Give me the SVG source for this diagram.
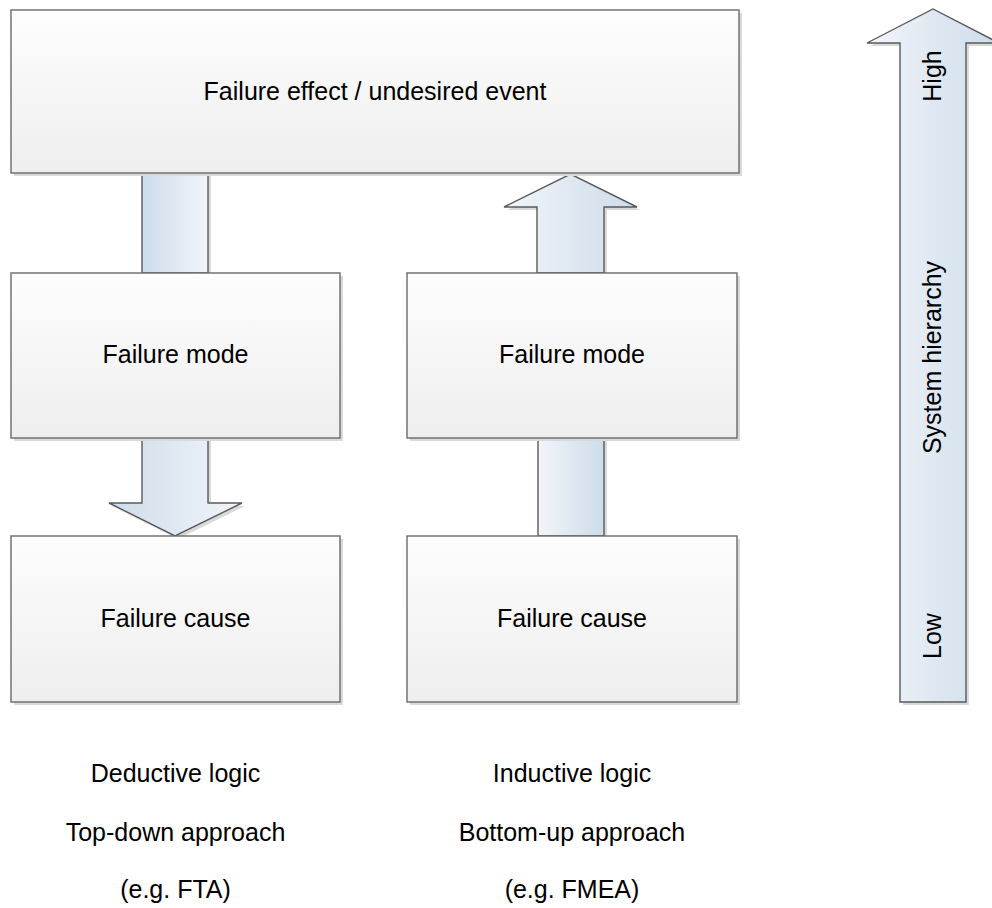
<svg xmlns="http://www.w3.org/2000/svg" xmlns:xlink="http://www.w3.org/1999/xlink" width="992" height="908" viewBox="0 0 992 908">
  <style>
    .box { fill: url(#gBox); stroke: #6a6a6a; stroke-width: 1.4; }
    .shadow { fill: #d9d9d9; stroke: none; }
    .down { fill: url(#gDown); stroke: #5a5a5a; stroke-width: 1.4; stroke-linejoin: miter; }
    .up { fill: url(#gUp); stroke: #5a5a5a; stroke-width: 1.4; stroke-linejoin: miter; }
    .label { font-family: "Liberation Sans", Arial, sans-serif; font-size: 25px; fill: #000; text-anchor: middle; }
  </style>
  <defs>
    <linearGradient id="gBox" x1="0" y1="0" x2="0" y2="1">
      <stop offset="0" stop-color="#fdfdfd"/>
      <stop offset="1" stop-color="#eeeeee"/>
    </linearGradient>
    <linearGradient id="gDown" x1="0" y1="0" x2="1" y2="0">
      <stop offset="0" stop-color="#cddcea"/>
      <stop offset="1" stop-color="#f2f5fa"/>
    </linearGradient>
    <linearGradient id="gUp" x1="0" y1="0" x2="1" y2="0">
      <stop offset="0" stop-color="#f2f5fa"/>
      <stop offset="1" stop-color="#cddcea"/>
    </linearGradient>
  </defs>
  <rect width="992" height="908" fill="#ffffff"/>

  <g id="connectors">
    <rect class="shadow" x="145" y="176" width="66" height="100"/>
    <rect class="down" x="142" y="173" width="66" height="100"/>
    <polygon class="shadow" points="145,441 211,441 211,506 245,506 178,539 112,506 145,506"/>
    <polygon class="down" points="142,438 208,438 208,503 242,503 175,536 109,503 142,503"/>
    <polygon class="shadow" points="540,276 540,210 507,210 573,177 640,210 607,210 607,276"/>
    <polygon class="up" points="537,273 537,207 504,207 570.5,174 637,207 604,207 604,273"/>
    <rect class="shadow" x="541" y="441" width="66" height="98"/>
    <rect class="up" x="538" y="438" width="66" height="98"/>
  </g>

  <g id="hierarchy">
    <polygon class="shadow" points="903,705 903,46 870,46 936,12 1002,46 969,46 969,705"/>
    <polygon class="up" points="900,702 900,43 867,43 933,9 999,43 966,43 966,702"/>
    <text class="label" transform="translate(941,76) rotate(-90)">High</text>
    <text class="label" transform="translate(941,357.5) rotate(-90)">System hierarchy</text>
    <text class="label" transform="translate(941,636) rotate(-90)">Low</text>
  </g>

  <g id="effect">
    <rect class="shadow" x="14" y="13" width="728" height="163"/>
    <rect class="box" x="11" y="10" width="728" height="163"/>
    <text class="label" x="375" y="100">Failure effect / undesired event</text>
  </g>

  <g id="mode-left">
    <rect class="shadow" x="14" y="276" width="329" height="165"/>
    <rect class="box" x="11" y="273" width="329" height="165"/>
    <text class="label" x="175.5" y="363">Failure mode</text>
  </g>

  <g id="cause-left">
    <rect class="shadow" x="14" y="539" width="329" height="166"/>
    <rect class="box" x="11" y="536" width="329" height="166"/>
    <text class="label" x="175.5" y="627">Failure cause</text>
  </g>

  <g id="mode-right">
    <rect class="shadow" x="410" y="276" width="330" height="165"/>
    <rect class="box" x="407" y="273" width="330" height="165"/>
    <text class="label" x="572" y="363">Failure mode</text>
  </g>

  <g id="cause-right">
    <rect class="shadow" x="410" y="539" width="330" height="166"/>
    <rect class="box" x="407" y="536" width="330" height="166"/>
    <text class="label" x="572" y="627">Failure cause</text>
  </g>

  <g id="notes-left">
    <text class="label" x="175.5" y="782">Deductive logic</text>
    <text class="label" x="175.5" y="841">Top-down approach</text>
    <text class="label" x="175.5" y="898">(e.g. FTA)</text>
  </g>

  <g id="notes-right">
    <text class="label" x="572" y="782">Inductive logic</text>
    <text class="label" x="572" y="841">Bottom-up approach</text>
    <text class="label" x="572" y="898">(e.g. FMEA)</text>
  </g>
</svg>
